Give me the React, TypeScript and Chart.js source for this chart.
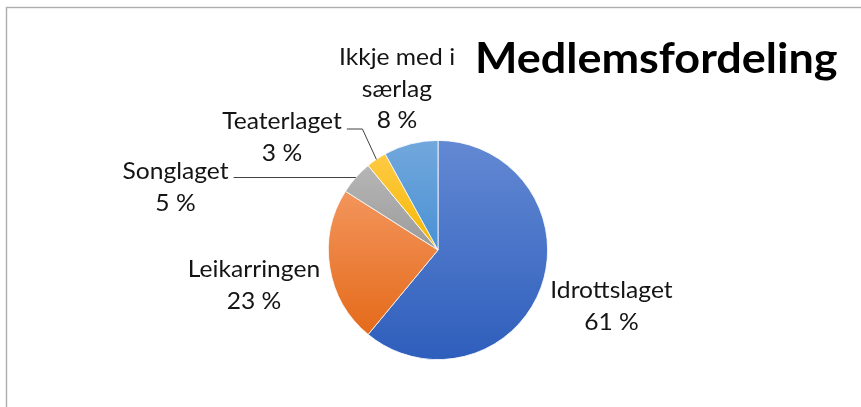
import React, { useEffect, useRef } from 'react';
import { Chart, registerables } from 'chart.js';

Chart.register(...registerables);

const TITLE = 'Medlemsfordeling';
const categories = ['Idrottslaget', 'Leikarringen', 'Songlaget', 'Teaterlaget', 'Ikkje med i særlag'];
const labelLines = [['Idrottslaget'], ['Leikarringen'], ['Songlaget'], ['Teaterlaget'], ['Ikkje med i', 'særlag']];
const shares = [61, 23, 5, 3, 8];
const percentLabels = ['61 %', '23 %', '5 %', '3 %', '8 %'];

const gradTop = ['#6389D3', '#F3955C', '#B6B6B6', '#FFCA45', '#72A8DC'];
const gradBottom = ['#2E5EBC', '#E46A1A', '#9B9B9B', '#F5B800', '#4A91D4'];

// label anchor (centre x, first baseline y) relative to pie centre
const LABEL_OFFSETS = [
  [173.5, 48],
  [-184, 27],
  [-262.5, -71],
  [-156, -121],
  [-41, -185],
];
const LEADERS = [null, null, 'straight', 'elbow', null];
const LINE_H = 31.5;
const LABEL_FONT = '23px Lato';
const TITLE_FONT = 'bold 42px Lato';
const STRETCH = 1.07;

function sliceGradient(ctx: any) {
  const i = ctx.dataIndex;
  const chart = ctx.chart;
  const area = chart.chartArea;
  if (i === undefined || !area) return gradTop[0];
  const data = chart.data.datasets[0].data as number[];
  const total = data.reduce((a, b) => a + b, 0);
  let before = 0;
  for (let k = 0; k < i; k++) before += data[k];
  const cx = (area.left + area.right) / 2;
  const cy = (area.top + area.bottom) / 2;
  const r = Math.min(area.right - area.left, area.bottom - area.top) / 2;
  const s = -Math.PI / 2 + (2 * Math.PI * before) / total;
  const e = s + (2 * Math.PI * data[i]) / total;
  let yMin = Math.min(cy, cy + r * Math.sin(s), cy + r * Math.sin(e));
  let yMax = Math.max(cy, cy + r * Math.sin(s), cy + r * Math.sin(e));
  const eps = 1e-6;
  if (s <= -Math.PI / 2 + eps || e >= (3 * Math.PI) / 2 - eps) yMin = cy - r;
  if (s <= Math.PI / 2 && e >= Math.PI / 2) yMax = cy + r;
  const g = chart.ctx.createLinearGradient(0, yMin, 0, yMax);
  g.addColorStop(0, gradTop[i]);
  g.addColorStop(1, gradBottom[i]);
  return g;
}

function drawText(c: CanvasRenderingContext2D, t: string, x: number, y: number, align: 'left' | 'center') {
  c.save();
  c.translate(x, y);
  c.scale(STRETCH, 1);
  c.textAlign = align;
  c.fillText(t, 0, 0);
  c.restore();
}

const decorPlugin = {
  id: 'decor',
  beforeDraw(chart: any) {
    const c = chart.ctx;
    c.save();
    c.fillStyle = '#FFFFFF';
    c.fillRect(0, 0, chart.width, chart.height);
    c.strokeStyle = '#ADADAD';
    c.lineWidth = 1.4;
    c.strokeRect(6.5, 7.5, chart.width + 50, chart.height + 50);
    c.restore();
  },
  afterDatasetsDraw(chart: any) {
    const c = chart.ctx;
    const meta = chart.getDatasetMeta(0);
    c.save();
    c.textBaseline = 'alphabetic';
    // title
    c.font = TITLE_FONT;
    c.fillStyle = '#000000';
    drawText(c, TITLE, 475, 73, 'left');

    c.font = LABEL_FONT;
    c.fillStyle = '#141414';
    meta.data.forEach((arc: any, i: number) => {
      const cx = arc.x;
      const cy = arc.y;
      const lx = cx + LABEL_OFFSETS[i][0];
      const ly = cy + LABEL_OFFSETS[i][1];
      const lines = [...labelLines[i], percentLabels[i]];
      lines.forEach((t, k) => drawText(c, t, lx, ly + k * LINE_H, 'center'));
      const mid = (arc.startAngle + arc.endAngle) / 2;
      const px = cx + arc.outerRadius * Math.cos(mid);
      const py = cy + arc.outerRadius * Math.sin(mid);
      const w = c.measureText(labelLines[i][0]).width * STRETCH;
      const sx = lx + w / 2 + 5;
      c.strokeStyle = '#404040';
      c.lineWidth = 1;
      if (LEADERS[i] === 'straight') {
        c.beginPath();
        c.moveTo(sx, py);
        c.lineTo(px, py);
        c.stroke();
      } else if (LEADERS[i] === 'elbow') {
        c.beginPath();
        c.moveTo(sx, ly);
        c.lineTo(px - 14, ly);
        c.lineTo(px, py);
        c.stroke();
      }
    });
    c.restore();
  },
};

export default function App() {
  const ref = useRef<HTMLCanvasElement>(null);
  useEffect(() => {
    if (!ref.current) return;
    const chart = new Chart(ref.current, {
      type: 'pie',
      data: {
        labels: categories,
        datasets: [
          {
            data: shares,
            backgroundColor: sliceGradient as any,
            borderColor: '#FFFFFF',
            borderWidth: 0.8,
          },
        ],
      },
      options: {
        responsive: false,
        animation: false,
        devicePixelRatio: 1,
        layout: { padding: { left: 328, right: 313, top: 140, bottom: 47 } },
        plugins: {
          legend: { display: false },
          title: { display: false },
          tooltip: { enabled: false },
        },
      },
      plugins: [decorPlugin],
    });
    return () => chart.destroy();
  }, []);
  return (
    <div style={{ position: 'absolute', left: 0, top: 0, width: 861, height: 407 }}>
      <canvas ref={ref} width={861} height={407} />
    </div>
  );
}
